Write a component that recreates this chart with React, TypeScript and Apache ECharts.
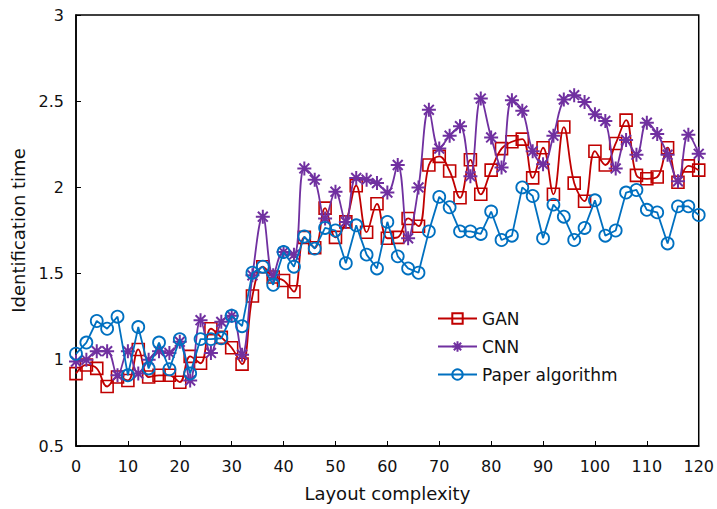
import React, { useEffect, useRef } from "react";
import * as echarts from "echarts";

const xValues: number[] = Array.from({ length: 61 }, (_, i) => i * 2);

const ganValues: number[] = [
  0.92, 0.97, 0.95, 0.845, 0.9, 0.88, 1.06, 0.9, 0.91, 0.91, 0.87,
  1.02, 0.98, 1.18, 1.13, 1.07, 0.975, 1.37, 1.54, 1.48, 1.46,
  1.395, 1.71, 1.65, 1.88, 1.71, 1.8, 2.01, 1.74, 1.905, 1.705,
  1.71, 1.82, 1.775, 2.13, 2.18, 2.095, 1.94, 2.16, 1.96, 2.1,
  2.225, 2.265, 2.28, 2.055, 2.23, 1.96, 2.35, 2.025, 1.92, 2.21,
  2.13, 2.255, 2.39, 2.07, 2.05, 2.06, 2.23, 2.03, 2.125, 2.1,
];

const cnnValues: number[] = [
  0.99, 1.0, 1.05, 1.05, 0.91, 1.05, 0.92, 1.0, 1.05, 1.04, 1.105,
  0.88, 1.23, 1.04, 1.22, 1.255, 1.03, 1.49, 1.83, 1.49, 1.625,
  1.61, 2.11, 2.045, 1.82, 1.975, 1.8, 2.055, 2.045, 2.025, 1.97,
  2.13, 1.705, 2.0, 2.45, 2.225, 2.3, 2.355, 2.065, 2.515, 2.29,
  2.115, 2.505, 2.445, 2.21, 2.135, 2.3, 2.51, 2.535, 2.495, 2.425,
  2.385, 2.11, 2.275, 2.19, 2.375, 2.31, 2.19, 2.035, 2.305, 2.195,
];

const paperValues: number[] = [
  1.035, 1.1, 1.225, 1.18, 1.25, 0.91, 1.19, 0.95, 1.1, 0.945, 1.12,
  0.92, 1.12, 1.12, 1.125, 1.255, 1.195, 1.505, 1.54, 1.435, 1.625,
  1.54, 1.715, 1.645, 1.765, 1.75, 1.56, 1.78, 1.61, 1.53, 1.8,
  1.6, 1.53, 1.505, 1.745, 1.945, 1.885, 1.745, 1.745, 1.73, 1.86,
  1.695, 1.72, 2.0, 1.95, 1.705, 1.9, 1.83, 1.695, 1.765, 1.925,
  1.72, 1.75, 1.97, 1.985, 1.87, 1.855, 1.675, 1.89, 1.89, 1.84,
];

const seriesNames: string[] = ["GAN", "CNN", "Paper algorithm"];
const colors: string[] = ["#C00000", "#7030A0", "#0070C0"];

const FONT = "DejaVu Sans";
const asterisk =
  "path://M0,-10L0,10M-10,0L10,0M-7.07,-7.07L7.07,7.07M-7.07,7.07L7.07,-7.07";

export default function App() {
  const ref = useRef<HTMLDivElement>(null);

  useEffect(() => {
    if (!ref.current) return;
    const chart = echarts.init(ref.current, undefined, { renderer: "svg" });
    const toPairs = (vals: number[]) => xValues.map((x, i) => [x, vals[i]]);
    chart.setOption({
      animation: false,
      backgroundColor: "#ffffff",
      textStyle: { fontFamily: FONT },
      grid: {
        left: 76,
        right: 12,
        top: 15,
        bottom: 63,
        show: true,
        borderColor: "#000",
        borderWidth: 1.5,
        containLabel: false,
      },
      legend: {
        orient: "vertical",
        left: 432,
        top: 305,
        itemWidth: 39,
        itemHeight: 13,
        itemGap: 11,
        data: seriesNames,
        textStyle: { fontFamily: FONT, fontSize: 17, color: "#111" },
      },
      xAxis: {
        type: "value",
        min: 0,
        max: 120,
        interval: 10,
        name: "Layout complexity",
        nameLocation: "middle",
        nameGap: 38,
        nameTextStyle: { fontFamily: FONT, fontSize: 18, color: "#111" },
        axisLine: { show: true, lineStyle: { color: "#000", width: 1.5 } },
        axisTick: { show: true, inside: true, length: 5, lineStyle: { color: "#000" } },
        axisLabel: { fontFamily: FONT, fontSize: 16, color: "#111", margin: 12 },
        splitLine: { show: false },
      },
      yAxis: {
        type: "value",
        min: 0.5,
        max: 3,
        interval: 0.5,
        name: "Identification time",
        nameLocation: "middle",
        nameGap: 45,
        nameRotate: 90,
        nameTextStyle: { fontFamily: FONT, fontSize: 18, color: "#111" },
        axisLine: { show: true, lineStyle: { color: "#000", width: 1.5 } },
        axisTick: { show: true, inside: true, length: 5, lineStyle: { color: "#000" } },
        axisLabel: { fontFamily: FONT, fontSize: 16, color: "#111", margin: 12 },
        splitLine: { show: false },
      },
      series: [
        {
          name: seriesNames[0],
          type: "line",
          data: toPairs(ganValues),
          smooth: 0.4,
          symbol: "rect",
          symbolSize: 12,
          lineStyle: { color: colors[0], width: 1.8 },
          itemStyle: { color: "rgba(0,0,0,0)", borderColor: colors[0], borderWidth: 1.6 },
          z: 2,
        },
        {
          name: seriesNames[1],
          type: "line",
          data: toPairs(cnnValues),
          smooth: 0.4,
          symbol: asterisk,
          symbolSize: 14,
          lineStyle: { color: colors[1], width: 1.8 },
          itemStyle: { color: "rgba(0,0,0,0)", borderColor: colors[1], borderWidth: 2 },
          z: 3,
        },
        {
          name: seriesNames[2],
          type: "line",
          data: toPairs(paperValues),
          smooth: false,
          symbol: "circle",
          symbolSize: 12,
          lineStyle: { color: colors[2], width: 1.8 },
          itemStyle: { color: "rgba(0,0,0,0)", borderColor: colors[2], borderWidth: 1.8 },
          z: 4,
        },
      ],
    });
    return () => chart.dispose();
  }, []);

  return (
    <div
      ref={ref}
      style={{ position: "fixed", left: 0, top: 0, width: 717, height: 509 }}
    />
  );
}
